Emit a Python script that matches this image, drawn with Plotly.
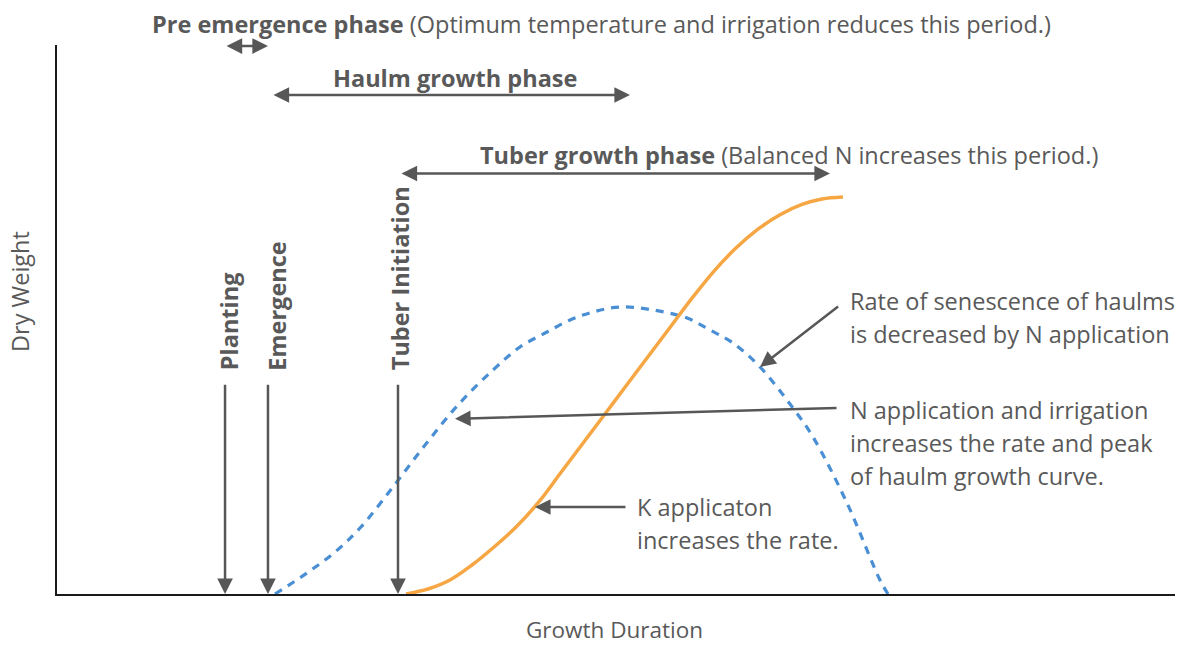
import plotly.graph_objects as go

# Haulm (foliage) dry weight through the season
haulm_t = [19.50, 22.36, 24.87, 27.10, 30.05, 32.92, 35.87, 39.00, 41.41, 43.83,
           45.89, 47.94, 50.36, 53.31, 56.35, 58.41, 60.47, 62.88, 65.83, 67.62,
           70.66, 73.61, 74.33]
haulm_w = [0.00, 3.83, 7.65, 12.02, 19.49, 27.14, 34.43, 40.80, 44.99, 47.72,
           49.91, 51.37, 52.28, 51.73, 50.27, 48.09, 45.72, 41.35, 33.88, 28.60,
           16.58, 2.55, 0.00]

# Tuber dry weight through the season
tuber_t = [31.22, 33.18, 35.15, 37.12, 39.09, 41.06, 43.02, 44.99, 46.96, 48.93,
           50.89, 52.86, 54.83, 56.80, 58.77, 60.73, 62.70, 64.67, 66.64, 68.43,
           70.30]
tuber_w = [0.00, 0.91, 2.55, 5.28, 8.56, 12.20, 16.58, 21.89, 27.23, 32.57,
           37.89, 43.22, 48.54, 53.88, 58.82, 63.02, 66.45, 69.09, 70.95, 71.95,
           72.31]

# Crop stage events (time on the growth-duration axis)
events = ["Planting", "Emergence", "Tuber Initiation"]
event_t = [15.03, 18.87, 30.50]
event_label_shift = [4, 9, 2]

# Phase spans (start, end)
haulm_phase = (19.23, 51.25)
tuber_phase = (30.68, 69.14)

BLUE = "#4A8FD4"
ORANGE = "#F6A643"
GREY = "#575757"
TEXT = "#595959"
FONT = "Open Sans"
FS = 23.5

fig = go.Figure()
fig.add_trace(go.Scatter(x=haulm_t, y=haulm_w, mode="lines",
                         line=dict(color=BLUE, width=3.2, dash="8px,7px", shape="spline"),
                         hoverinfo="skip", showlegend=False))
fig.add_trace(go.Scatter(x=tuber_t, y=tuber_w, mode="lines",
                         line=dict(color=ORANGE, width=3.5, shape="spline"),
                         hoverinfo="skip", showlegend=False))

ann = []


def arrow(x0, y0, x1, y1, both=False):
    ann.append(dict(x=x1, y=y1, ax=x0, ay=y0, xref="x", yref="y", axref="x", ayref="y",
                    text="", showarrow=True, arrowhead=2, arrowsize=1.25, arrowwidth=2.5,
                    arrowcolor=GREY, standoff=0, startstandoff=0,
                    arrowside="end+start" if both else "end",
                    startarrowhead=2, startarrowsize=1.25))


def label(x, y, text, anchor="center", angle=0, yanchor="middle", xshift=0, ref="x",
          size=FS):
    ann.append(dict(x=x, y=y, xref=ref, yref=ref.replace("x", "y"), text=text,
                    showarrow=False, xanchor=anchor, yanchor=yanchor, textangle=angle,
                    xshift=xshift, font=dict(family=FONT, size=size, color=TEXT)))


# Stage markers: vertical arrows down to the time axis
for name, t, sh in zip(events, event_t, event_label_shift):
    arrow(t, 38.4, t, 0)
    label(t, 40.4, "<b>%s</b>" % name, angle=-90, yanchor="bottom", xshift=sh)

# Phase spans
arrow(event_t[0], 99.8, event_t[1], 99.8, both=True)
arrow(haulm_phase[0], 90.9, haulm_phase[1], 90.9, both=True)
arrow(tuber_phase[0], 76.6, tuber_phase[1], 76.6, both=True)

label(0.4888, 1.0383,
      "<b>Pre emergence phase</b> (Optimum temperature and irrigation reduces this period.)",
      ref="paper", xshift=-2)
label(35.64, 94.0, "<b>Haulm growth phase</b>")
label(65.47, 80.0, "<b>Tuber growth phase</b> (Balanced N increases this period.)")

# Management notes
arrow(70.0, 52.6, 62.88, 41.35)
label(70.93, 53.4, "Rate of senescence of haulms", anchor="left", xshift=-2)
label(70.93, 47.4, "is decreased by N application", anchor="left", xshift=-2)

arrow(69.86, 33.9, 35.60, 31.9)
label(70.93, 33.5, "N application and irrigation", anchor="left", xshift=-2)
label(70.93, 27.5, "increases the rate and peak", anchor="left", xshift=-2)
label(70.93, 21.5, "of haulm growth curve.", anchor="left", xshift=-2)

arrow(50.98, 15.85, 42.75, 15.85)
label(51.88, 15.9, "K applicaton", anchor="left", xshift=-2)
label(51.88, 9.9, "increases the rate.", anchor="left", xshift=-2)

# Axis titles
label(-0.0331, 0.5519, "Dry Weight", angle=-90, ref="paper")
label(0.4991, -0.0638, "Growth Duration", ref="paper", size=22.5)

fig.update_layout(
    width=1180, height=645,
    margin=dict(l=57, r=5, t=45, b=51),
    paper_bgcolor="white", plot_bgcolor="white",
    annotations=ann,
    xaxis=dict(range=[0, 100], showline=True, linecolor="#1a1a1a", linewidth=2,
               showgrid=False, zeroline=False, showticklabels=False, ticks=""),
    yaxis=dict(range=[0, 100], showline=True, linecolor="#1a1a1a", linewidth=2,
               showgrid=False, zeroline=False, showticklabels=False, ticks=""),
    font=dict(family=FONT, color=TEXT),
)

fig.write_html("out.html")
